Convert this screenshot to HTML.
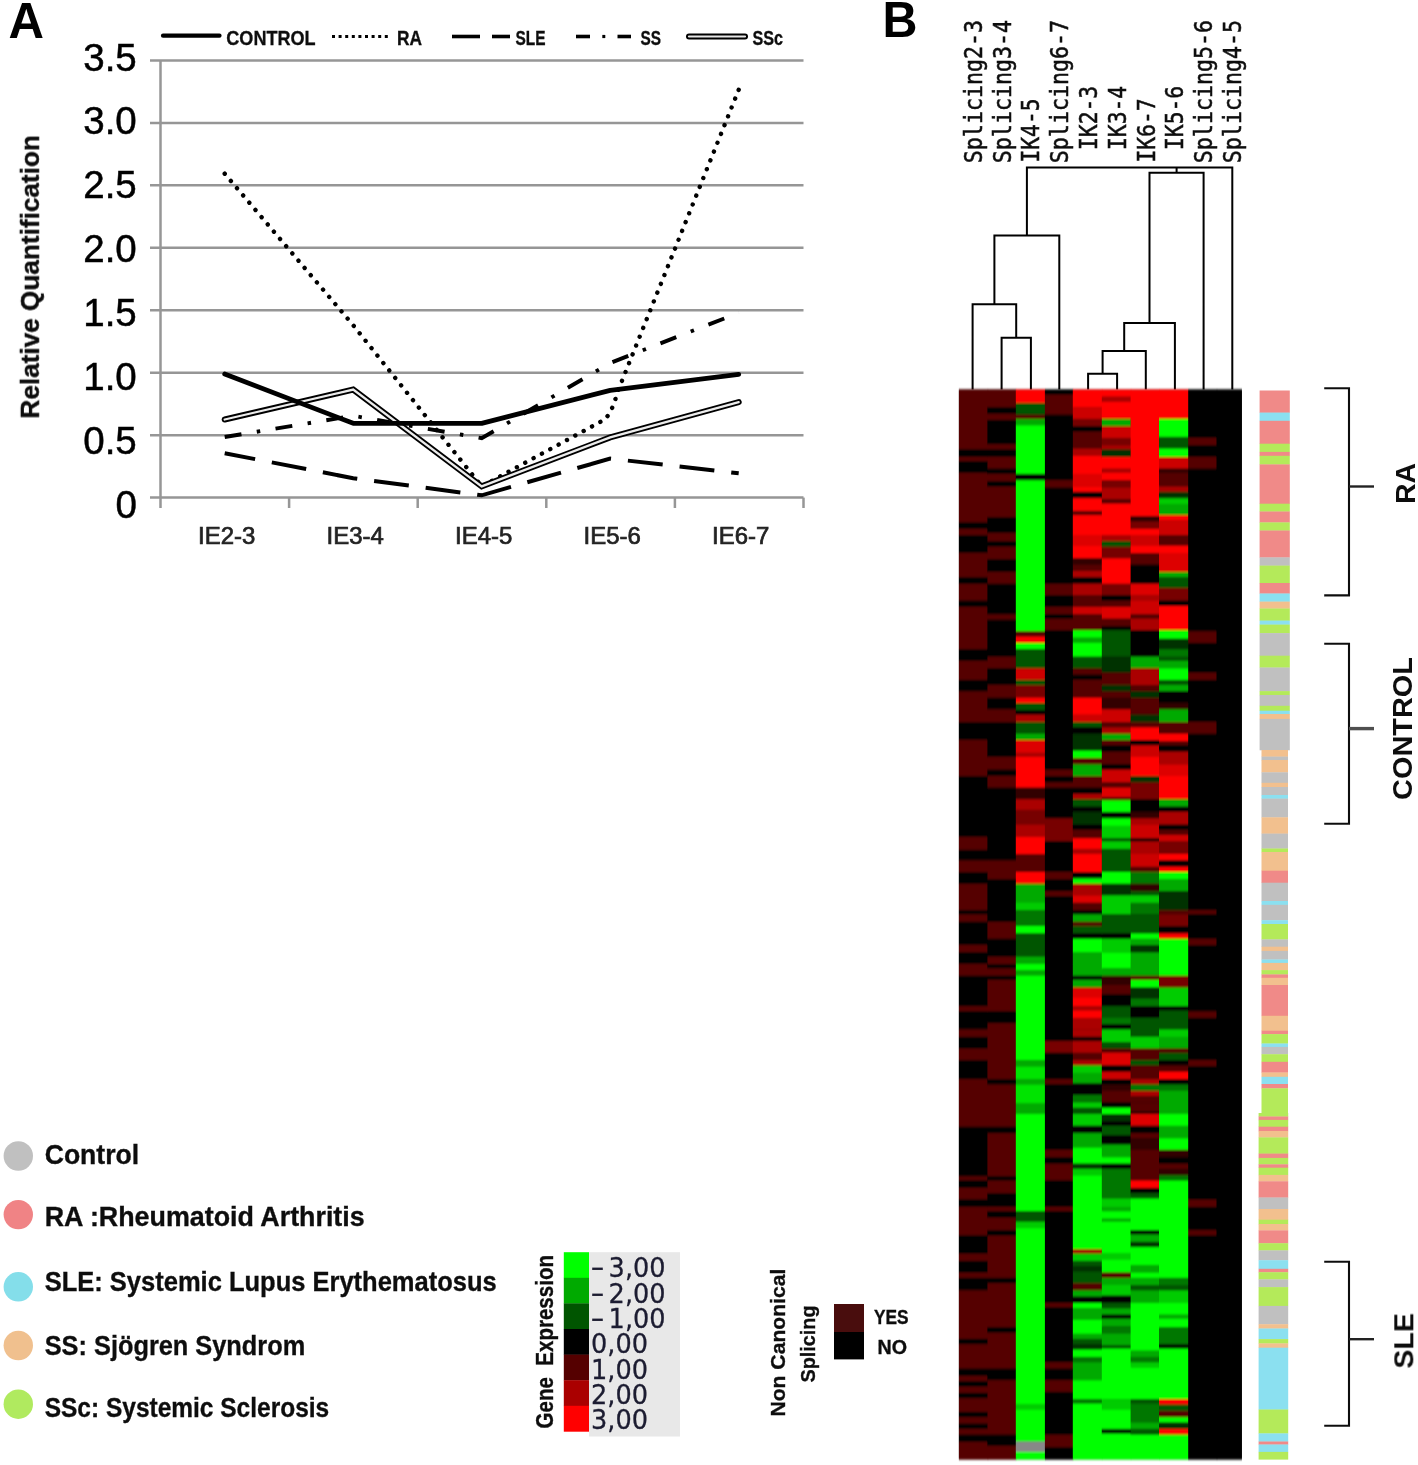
<!DOCTYPE html>
<html lang="en"><head><meta charset="utf-8"><title>Figure</title>
<style>html,body{margin:0;padding:0;background:#fff}svg{display:block}text{font-family:"Liberation Sans",sans-serif}.cb{font-weight:bold;fill:#111;stroke:#111;stroke-width:0.35px}.mono{font-family:"DejaVu Sans Mono","Liberation Mono",monospace;fill:#111;stroke:#111;stroke-width:0.45px}.dv{font-family:"DejaVu Sans",sans-serif;fill:#1c1c30;stroke:#1c1c30;stroke-width:0.3px}</style></head><body>
<svg width="1418" height="1465" viewBox="0 0 1418 1465">
<defs><filter id="bl" x="-2%" y="-1%" width="104%" height="102%"><feGaussianBlur stdDeviation="0.7 0.8"/></filter><filter id="b2"><feGaussianBlur stdDeviation="0.45"/></filter></defs>
<rect width="1418" height="1465" fill="#fff"/>
<text x="8.5" y="37.6" font-size="50.5" font-weight="bold" fill="#000" textLength="35.5" lengthAdjust="spacingAndGlyphs">A</text>
<text x="882.6" y="37.3" font-size="50.5" font-weight="bold" fill="#000" textLength="35" lengthAdjust="spacingAndGlyphs">B</text>
<g filter="url(#b2)">
<g stroke="#969696" stroke-width="2.5" fill="none">
<line x1="150" y1="60.4" x2="803.5" y2="60.4"/>
<line x1="150" y1="122.9" x2="803.5" y2="122.9"/>
<line x1="150" y1="185.3" x2="803.5" y2="185.3"/>
<line x1="150" y1="247.8" x2="803.5" y2="247.8"/>
<line x1="150" y1="310.2" x2="803.5" y2="310.2"/>
<line x1="150" y1="372.7" x2="803.5" y2="372.7"/>
<line x1="150" y1="435.2" x2="803.5" y2="435.2"/>
<line x1="150" y1="497.6" x2="803.5" y2="497.6"/>
<line x1="160.5" y1="60" x2="160.5" y2="508"/>
<line x1="289.1" y1="497.6" x2="289.1" y2="508"/>
<line x1="417.7" y1="497.6" x2="417.7" y2="508"/>
<line x1="546.3" y1="497.6" x2="546.3" y2="508"/>
<line x1="674.9" y1="497.6" x2="674.9" y2="508"/>
<line x1="803.5" y1="497.6" x2="803.5" y2="508"/>
</g>
<text x="136.8" y="70.6" font-size="38.5" text-anchor="end" fill="#000" stroke="#000" stroke-width="0.5" textLength="53.6" lengthAdjust="spacingAndGlyphs">3.5</text>
<text x="136.8" y="134.4" font-size="38.5" text-anchor="end" fill="#000" stroke="#000" stroke-width="0.5" textLength="53.6" lengthAdjust="spacingAndGlyphs">3.0</text>
<text x="136.8" y="198.3" font-size="38.5" text-anchor="end" fill="#000" stroke="#000" stroke-width="0.5" textLength="53.6" lengthAdjust="spacingAndGlyphs">2.5</text>
<text x="136.8" y="262.1" font-size="38.5" text-anchor="end" fill="#000" stroke="#000" stroke-width="0.5" textLength="53.6" lengthAdjust="spacingAndGlyphs">2.0</text>
<text x="136.8" y="326.0" font-size="38.5" text-anchor="end" fill="#000" stroke="#000" stroke-width="0.5" textLength="53.6" lengthAdjust="spacingAndGlyphs">1.5</text>
<text x="136.8" y="389.9" font-size="38.5" text-anchor="end" fill="#000" stroke="#000" stroke-width="0.5" textLength="53.6" lengthAdjust="spacingAndGlyphs">1.0</text>
<text x="136.8" y="453.7" font-size="38.5" text-anchor="end" fill="#000" stroke="#000" stroke-width="0.5" textLength="53.6" lengthAdjust="spacingAndGlyphs">0.5</text>
<text x="136.8" y="517.5" font-size="38.5" text-anchor="end" fill="#000" stroke="#000" stroke-width="0.5">0</text>
<text x="226.7" y="544" font-size="24.3" text-anchor="middle" fill="#222" stroke="#222" stroke-width="0.7" textLength="57.3" lengthAdjust="spacingAndGlyphs">IE2-3</text>
<text x="355.2" y="544" font-size="24.3" text-anchor="middle" fill="#222" stroke="#222" stroke-width="0.7" textLength="57.3" lengthAdjust="spacingAndGlyphs">IE3-4</text>
<text x="483.7" y="544" font-size="24.3" text-anchor="middle" fill="#222" stroke="#222" stroke-width="0.7" textLength="57.3" lengthAdjust="spacingAndGlyphs">IE4-5</text>
<text x="612.2" y="544" font-size="24.3" text-anchor="middle" fill="#222" stroke="#222" stroke-width="0.7" textLength="57.3" lengthAdjust="spacingAndGlyphs">IE5-6</text>
<text x="740.7" y="544" font-size="24.3" text-anchor="middle" fill="#222" stroke="#222" stroke-width="0.7" textLength="57.3" lengthAdjust="spacingAndGlyphs">IE6-7</text>
<text transform="translate(38.9,418.6) rotate(-90)" font-size="25" class="cb" fill="#222" textLength="283.5" lengthAdjust="spacingAndGlyphs">Relative Quantification</text>
<path d="M224.7,173.7 L353.2,325.2 L481.7,486.4" fill="none" stroke="#000" stroke-width="4.4" stroke-linecap="round" stroke-dasharray="0.1 9.4"/>
<path d="M738.7,89.8 L617.5,392 Q611,416.5 602,421 L487.7,483.1" fill="none" stroke="#000" stroke-width="4.4" stroke-linecap="round" stroke-dasharray="0.1 9.4"/>
<polyline points="224.7,437.0 353.2,415.8 481.7,438.2 610.2,363.0 738.7,312.8" fill="none" stroke="#000" stroke-width="3.9" stroke-dasharray="17 15.5 3.5 15.5"/>
<polyline points="224.7,453.2 353.2,478.2 481.7,495.3 610.2,458.6 738.7,473.3" fill="none" stroke="#000" stroke-width="4" stroke-dasharray="35 17" stroke-dashoffset="4"/>
<polyline points="224.7,419.5 353.2,389.6 481.7,486.4 610.2,437.4 738.7,402.1" fill="none" stroke="#000" stroke-width="6" stroke-linecap="round" stroke-linejoin="miter"/>
<polyline points="224.7,419.5 353.2,389.6 481.7,486.4 610.2,437.4 738.7,402.1" fill="none" stroke="#ececec" stroke-width="2.3" stroke-linecap="round"/>
<polyline points="224.7,374.0 353.2,423.3 481.7,423.3 610.2,390.4 738.7,374.3" fill="none" stroke="#000" stroke-width="4.8" stroke-linecap="round" stroke-linejoin="round"/>
<line x1="163" y1="35.7" x2="219.5" y2="35.7" stroke="#000" stroke-width="4.2" stroke-linecap="round"/>
<text x="226.3" y="44.5" font-size="20.5" class="cb" textLength="89.3" lengthAdjust="spacingAndGlyphs">CONTROL</text>
<line x1="332" y1="36.5" x2="388" y2="36.5" stroke="#000" stroke-width="3" stroke-dasharray="3 3.6"/>
<text x="397" y="44.6" font-size="20.3" class="cb" textLength="25" lengthAdjust="spacingAndGlyphs">RA</text>
<line x1="452" y1="36.5" x2="480" y2="36.5" stroke="#000" stroke-width="3.6"/>
<line x1="492" y1="36.5" x2="510" y2="36.5" stroke="#000" stroke-width="3.6"/>
<text x="515.5" y="44.6" font-size="20.3" class="cb" textLength="30" lengthAdjust="spacingAndGlyphs">SLE</text>
<line x1="576" y1="36.5" x2="590" y2="36.5" stroke="#000" stroke-width="3.6"/>
<line x1="602.3" y1="36.5" x2="605.3" y2="36.5" stroke="#000" stroke-width="3.2"/>
<line x1="617.5" y1="36.5" x2="631" y2="36.5" stroke="#000" stroke-width="3.6"/>
<text x="640.5" y="44.6" font-size="20.3" class="cb" textLength="20.5" lengthAdjust="spacingAndGlyphs">SS</text>
<line x1="689" y1="36.5" x2="745" y2="36.5" stroke="#000" stroke-width="6" stroke-linecap="round"/>
<line x1="689" y1="36.5" x2="745" y2="36.5" stroke="#e8e8e8" stroke-width="2.2" stroke-linecap="round"/>
<text x="752.5" y="44.6" font-size="20.3" class="cb" textLength="30.5" lengthAdjust="spacingAndGlyphs">SSc</text>
</g>
<g filter="url(#b2)">
<circle cx="18.3" cy="1156.0" r="14.7" fill="#c0c0c0"/>
<text x="44.7" y="1164.2" font-size="27" class="cb" textLength="94.5" lengthAdjust="spacingAndGlyphs">Control</text>
<circle cx="18.3" cy="1214.6" r="14.7" fill="#f08385"/>
<text x="44.7" y="1226.3" font-size="27" class="cb" textLength="320.0" lengthAdjust="spacingAndGlyphs">RA :Rheumatoid Arthritis</text>
<circle cx="18.3" cy="1286.8" r="14.7" fill="#84deea"/>
<text x="44.7" y="1290.5" font-size="27" class="cb" textLength="452.0" lengthAdjust="spacingAndGlyphs">SLE: Systemic Lupus Erythematosus</text>
<circle cx="18.3" cy="1345.5" r="14.7" fill="#f0c08e"/>
<text x="44.7" y="1354.7" font-size="27" class="cb" textLength="260.5" lengthAdjust="spacingAndGlyphs">SS: Sjögren Syndrom</text>
<circle cx="18.3" cy="1404.2" r="14.7" fill="#b0ea5e"/>
<text x="44.7" y="1417.0" font-size="27" class="cb" textLength="284.5" lengthAdjust="spacingAndGlyphs">SSc: Systemic Sclerosis</text>
</g>
<g filter="url(#b2)">
<rect x="589" y="1252.2" width="91" height="184.3" fill="#e8e8e8"/>
<rect x="563.8" y="1252.2" width="25.2" height="25.9" fill="#00ff00"/>
<rect x="563.8" y="1277.8" width="25.2" height="25.9" fill="#00aa00"/>
<rect x="563.8" y="1303.4" width="25.2" height="25.9" fill="#005500"/>
<rect x="563.8" y="1329.0" width="25.2" height="25.9" fill="#000000"/>
<rect x="563.8" y="1354.6" width="25.2" height="25.9" fill="#550000"/>
<rect x="563.8" y="1380.2" width="25.2" height="25.9" fill="#aa0000"/>
<rect x="563.8" y="1405.8" width="25.2" height="25.9" fill="#ff0000"/>
<text y="1277.4" font-size="26" class="dv"><tspan x="590.6" textLength="14" lengthAdjust="spacingAndGlyphs">−</tspan><tspan x="608.6" textLength="57" lengthAdjust="spacingAndGlyphs">3,00</tspan></text>
<text y="1302.7" font-size="26" class="dv"><tspan x="590.6" textLength="14" lengthAdjust="spacingAndGlyphs">−</tspan><tspan x="608.6" textLength="57" lengthAdjust="spacingAndGlyphs">2,00</tspan></text>
<text y="1328.0" font-size="26" class="dv"><tspan x="590.6" textLength="14" lengthAdjust="spacingAndGlyphs">−</tspan><tspan x="608.6" textLength="57" lengthAdjust="spacingAndGlyphs">1,00</tspan></text>
<text x="591" y="1353.3" font-size="26" class="dv" textLength="57" lengthAdjust="spacingAndGlyphs">0,00</text>
<text x="591" y="1378.6" font-size="26" class="dv" textLength="57" lengthAdjust="spacingAndGlyphs">1,00</text>
<text x="591" y="1403.9" font-size="26" class="dv" textLength="57" lengthAdjust="spacingAndGlyphs">2,00</text>
<text x="591" y="1429.2" font-size="26" class="dv" textLength="57" lengthAdjust="spacingAndGlyphs">3,00</text>
<text transform="translate(552.6,1428.5) rotate(-90)" font-size="23" class="cb" textLength="173.5" lengthAdjust="spacingAndGlyphs" style="white-space:pre">Gene  Expression</text>
<text transform="translate(785,1416.6) rotate(-90)" font-size="21" class="cb" textLength="148" lengthAdjust="spacingAndGlyphs">Non Canonical</text>
<text transform="translate(814.7,1382.5) rotate(-90)" font-size="21" class="cb" textLength="77" lengthAdjust="spacingAndGlyphs">Splicing</text>
<rect x="834" y="1304" width="30" height="28" fill="#4a0808"/>
<rect x="834" y="1332" width="30" height="27.4" fill="#000"/>
<text x="874" y="1324" font-size="19.5" class="cb" textLength="34.6" lengthAdjust="spacingAndGlyphs">YES</text>
<text x="877.5" y="1354.4" font-size="19.5" class="cb" textLength="29.5" lengthAdjust="spacingAndGlyphs">NO</text>
</g>
<path d="M1001.6,389.5 V337.7 H1030.9 V389.5 M972.6,389.5 V304.2 H1016.2 V337.7 M994.4,304.2 V235.5 H1059.3 V389.5 M1088.1,389.5 V373.8 H1117.1 V389.5 M1102.6,373.8 V351.0 H1145.8 V389.5 M1124.2,351.0 V322.9 H1174.9 V389.5 M1149.5,322.9 V172.7 H1203.6 V389.5 M1026.9,235.5 V167.5 H1232.3 V389.5 M1176.6,172.7 V167.5" fill="none" stroke="#000" stroke-width="2" filter="url(#b2)"/>
<g filter="url(#b2)">
<text transform="translate(981.7,163.2) rotate(-90) scale(1,1.17)" font-size="21.3" class="mono" textLength="143.3" lengthAdjust="spacingAndGlyphs">Splicing2-3</text>
<text transform="translate(1010.5,163.2) rotate(-90) scale(1,1.17)" font-size="21.3" class="mono" textLength="143.3" lengthAdjust="spacingAndGlyphs">Splicing3-4</text>
<text transform="translate(1039.3,162.6) rotate(-90) scale(1,1.17)" font-size="21.3" class="mono" textLength="64.2" lengthAdjust="spacingAndGlyphs">IK4-5</text>
<text transform="translate(1068.1,163.2) rotate(-90) scale(1,1.17)" font-size="21.3" class="mono" textLength="143.3" lengthAdjust="spacingAndGlyphs">Splicing6-7</text>
<text transform="translate(1096.9,150.0) rotate(-90) scale(1,1.17)" font-size="21.3" class="mono" textLength="64.2" lengthAdjust="spacingAndGlyphs">IK2-3</text>
<text transform="translate(1125.7,150.0) rotate(-90) scale(1,1.17)" font-size="21.3" class="mono" textLength="64.2" lengthAdjust="spacingAndGlyphs">IK3-4</text>
<text transform="translate(1154.5,162.6) rotate(-90) scale(1,1.17)" font-size="21.3" class="mono" textLength="64.2" lengthAdjust="spacingAndGlyphs">IK6-7</text>
<text transform="translate(1183.3,150.0) rotate(-90) scale(1,1.17)" font-size="21.3" class="mono" textLength="64.2" lengthAdjust="spacingAndGlyphs">IK5-6</text>
<text transform="translate(1212.1,163.2) rotate(-90) scale(1,1.17)" font-size="21.3" class="mono" textLength="143.3" lengthAdjust="spacingAndGlyphs">Splicing5-6</text>
<text transform="translate(1240.9,163.2) rotate(-90) scale(1,1.17)" font-size="21.3" class="mono" textLength="143.3" lengthAdjust="spacingAndGlyphs">Splicing4-5</text>
</g>
<g filter="url(#bl)">
<rect x="958.9" y="389.5" width="282.9" height="1069.8" fill="#000"/>
<rect x="958.9" y="389.5" width="29.5" height="60.3" fill="#550000"/>
<rect x="958.9" y="449.5" width="29.5" height="7.7" fill="#000000"/>
<rect x="958.9" y="456.9" width="29.5" height="4.6" fill="#550000"/>
<rect x="958.9" y="461.2" width="29.5" height="11.9" fill="#000000"/>
<rect x="958.9" y="472.8" width="29.5" height="50.0" fill="#550000"/>
<rect x="958.9" y="522.5" width="29.5" height="6.7" fill="#000000"/>
<rect x="958.9" y="528.9" width="29.5" height="6.4" fill="#550000"/>
<rect x="958.9" y="535.0" width="29.5" height="18.3" fill="#000000"/>
<rect x="958.9" y="553.0" width="29.5" height="24.6" fill="#550000"/>
<rect x="958.9" y="577.3" width="29.5" height="6.7" fill="#000000"/>
<rect x="958.9" y="583.7" width="29.5" height="17.2" fill="#550000"/>
<rect x="958.9" y="600.6" width="29.5" height="6.6" fill="#000000"/>
<rect x="958.9" y="606.9" width="29.5" height="42.6" fill="#550000"/>
<rect x="958.9" y="649.2" width="29.5" height="12.0" fill="#000000"/>
<rect x="958.9" y="660.9" width="29.5" height="19.3" fill="#550000"/>
<rect x="958.9" y="679.9" width="29.5" height="11.7" fill="#000000"/>
<rect x="958.9" y="691.3" width="29.5" height="31.0" fill="#550000"/>
<rect x="958.9" y="722.0" width="29.5" height="18.3" fill="#000000"/>
<rect x="958.9" y="740.0" width="29.5" height="36.3" fill="#550000"/>
<rect x="958.9" y="776.0" width="29.5" height="61.3" fill="#000000"/>
<rect x="958.9" y="837.0" width="29.5" height="13.1" fill="#550000"/>
<rect x="958.9" y="849.8" width="29.5" height="10.9" fill="#000000"/>
<rect x="958.9" y="860.4" width="29.5" height="11.9" fill="#550000"/>
<rect x="958.9" y="872.0" width="29.5" height="12.0" fill="#000000"/>
<rect x="958.9" y="883.7" width="29.5" height="26.7" fill="#550000"/>
<rect x="958.9" y="910.1" width="29.5" height="4.5" fill="#000000"/>
<rect x="958.9" y="914.3" width="29.5" height="7.7" fill="#550000"/>
<rect x="958.9" y="921.7" width="29.5" height="23.6" fill="#000000"/>
<rect x="958.9" y="945.0" width="29.5" height="7.7" fill="#550000"/>
<rect x="958.9" y="952.4" width="29.5" height="11.9" fill="#000000"/>
<rect x="958.9" y="964.0" width="29.5" height="12.0" fill="#550000"/>
<rect x="958.9" y="975.7" width="29.5" height="30.8" fill="#000000"/>
<rect x="958.9" y="1006.2" width="29.5" height="5.5" fill="#550000"/>
<rect x="958.9" y="1011.4" width="29.5" height="18.3" fill="#000000"/>
<rect x="958.9" y="1029.4" width="29.5" height="7.7" fill="#550000"/>
<rect x="958.9" y="1036.8" width="29.5" height="12.0" fill="#000000"/>
<rect x="958.9" y="1048.5" width="29.5" height="11.9" fill="#550000"/>
<rect x="958.9" y="1060.1" width="29.5" height="19.3" fill="#000000"/>
<rect x="958.9" y="1079.1" width="29.5" height="47.9" fill="#550000"/>
<rect x="958.9" y="1126.7" width="29.5" height="49.9" fill="#000000"/>
<rect x="958.9" y="1176.3" width="29.5" height="4.5" fill="#550000"/>
<rect x="958.9" y="1180.5" width="29.5" height="7.7" fill="#000000"/>
<rect x="958.9" y="1187.9" width="29.5" height="11.9" fill="#550000"/>
<rect x="958.9" y="1199.5" width="29.5" height="7.7" fill="#000000"/>
<rect x="958.9" y="1206.9" width="29.5" height="28.9" fill="#550000"/>
<rect x="958.9" y="1235.5" width="29.5" height="18.3" fill="#000000"/>
<rect x="958.9" y="1253.5" width="29.5" height="7.7" fill="#550000"/>
<rect x="958.9" y="1260.9" width="29.5" height="11.9" fill="#000000"/>
<rect x="958.9" y="1272.5" width="29.5" height="5.6" fill="#550000"/>
<rect x="958.9" y="1277.8" width="29.5" height="12.8" fill="#000000"/>
<rect x="958.9" y="1290.3" width="29.5" height="48.9" fill="#550000"/>
<rect x="958.9" y="1338.9" width="29.5" height="5.6" fill="#000000"/>
<rect x="958.9" y="1344.2" width="29.5" height="24.7" fill="#550000"/>
<rect x="958.9" y="1368.6" width="29.5" height="7.7" fill="#000000"/>
<rect x="958.9" y="1376.0" width="29.5" height="5.6" fill="#550000"/>
<rect x="958.9" y="1381.3" width="29.5" height="5.5" fill="#000000"/>
<rect x="958.9" y="1386.5" width="29.5" height="6.7" fill="#550000"/>
<rect x="958.9" y="1392.9" width="29.5" height="5.6" fill="#000000"/>
<rect x="958.9" y="1398.2" width="29.5" height="14.0" fill="#550000"/>
<rect x="958.9" y="1411.9" width="29.5" height="5.6" fill="#000000"/>
<rect x="958.9" y="1417.2" width="29.5" height="6.7" fill="#550000"/>
<rect x="958.9" y="1423.6" width="29.5" height="5.6" fill="#000000"/>
<rect x="958.9" y="1428.9" width="29.5" height="6.0" fill="#550000"/>
<rect x="958.9" y="1434.6" width="29.5" height="7.7" fill="#000000"/>
<rect x="958.9" y="1442.0" width="29.5" height="17.6" fill="#550000"/>
<rect x="987.4" y="389.5" width="29.4" height="18.0" fill="#550000"/>
<rect x="987.4" y="407.2" width="29.4" height="6.7" fill="#000000"/>
<rect x="987.4" y="413.6" width="29.4" height="6.6" fill="#550000"/>
<rect x="987.4" y="419.9" width="29.4" height="24.6" fill="#000000"/>
<rect x="987.4" y="444.2" width="29.4" height="5.6" fill="#550000"/>
<rect x="987.4" y="449.5" width="29.4" height="7.7" fill="#000000"/>
<rect x="987.4" y="456.9" width="29.4" height="12.0" fill="#550000"/>
<rect x="987.4" y="468.6" width="29.4" height="5.6" fill="#000000"/>
<rect x="987.4" y="473.9" width="29.4" height="7.7" fill="#550000"/>
<rect x="987.4" y="481.3" width="29.4" height="5.5" fill="#000000"/>
<rect x="987.4" y="486.5" width="29.4" height="31.0" fill="#550000"/>
<rect x="987.4" y="517.2" width="29.4" height="16.1" fill="#000000"/>
<rect x="987.4" y="533.0" width="29.4" height="8.6" fill="#550000"/>
<rect x="987.4" y="541.3" width="29.4" height="5.6" fill="#000000"/>
<rect x="987.4" y="546.6" width="29.4" height="13.0" fill="#550000"/>
<rect x="987.4" y="559.3" width="29.4" height="13.0" fill="#000000"/>
<rect x="987.4" y="572.0" width="29.4" height="12.0" fill="#550000"/>
<rect x="987.4" y="583.7" width="29.4" height="30.9" fill="#000000"/>
<rect x="987.4" y="614.3" width="29.4" height="5.6" fill="#550000"/>
<rect x="987.4" y="619.6" width="29.4" height="37.3" fill="#000000"/>
<rect x="987.4" y="656.6" width="29.4" height="12.0" fill="#550000"/>
<rect x="987.4" y="668.3" width="29.4" height="17.0" fill="#000000"/>
<rect x="987.4" y="685.0" width="29.4" height="13.0" fill="#550000"/>
<rect x="987.4" y="697.7" width="29.4" height="11.9" fill="#000000"/>
<rect x="987.4" y="709.3" width="29.4" height="13.0" fill="#550000"/>
<rect x="987.4" y="722.0" width="29.4" height="35.2" fill="#000000"/>
<rect x="987.4" y="756.9" width="29.4" height="13.0" fill="#550000"/>
<rect x="987.4" y="769.6" width="29.4" height="6.7" fill="#000000"/>
<rect x="987.4" y="776.0" width="29.4" height="11.9" fill="#550000"/>
<rect x="987.4" y="787.6" width="29.4" height="73.1" fill="#000000"/>
<rect x="987.4" y="860.4" width="29.4" height="19.3" fill="#550000"/>
<rect x="987.4" y="879.4" width="29.4" height="42.6" fill="#000000"/>
<rect x="987.4" y="921.7" width="29.4" height="17.3" fill="#550000"/>
<rect x="987.4" y="938.7" width="29.4" height="18.2" fill="#000000"/>
<rect x="987.4" y="956.6" width="29.4" height="7.7" fill="#550000"/>
<rect x="987.4" y="964.0" width="29.4" height="4.6" fill="#000000"/>
<rect x="987.4" y="968.3" width="29.4" height="7.7" fill="#550000"/>
<rect x="987.4" y="975.7" width="29.4" height="4.5" fill="#000000"/>
<rect x="987.4" y="979.9" width="29.4" height="31.8" fill="#550000"/>
<rect x="987.4" y="1011.4" width="29.4" height="12.0" fill="#000000"/>
<rect x="987.4" y="1023.1" width="29.4" height="56.3" fill="#550000"/>
<rect x="987.4" y="1079.1" width="29.4" height="5.6" fill="#000000"/>
<rect x="987.4" y="1084.4" width="29.4" height="42.6" fill="#550000"/>
<rect x="987.4" y="1126.7" width="29.4" height="6.7" fill="#000000"/>
<rect x="987.4" y="1133.1" width="29.4" height="43.5" fill="#550000"/>
<rect x="987.4" y="1176.3" width="29.4" height="4.5" fill="#000000"/>
<rect x="987.4" y="1180.5" width="29.4" height="13.0" fill="#550000"/>
<rect x="987.4" y="1193.2" width="29.4" height="14.0" fill="#000000"/>
<rect x="987.4" y="1206.9" width="29.4" height="4.6" fill="#550000"/>
<rect x="987.4" y="1211.2" width="29.4" height="6.6" fill="#000000"/>
<rect x="987.4" y="1217.5" width="29.4" height="13.0" fill="#550000"/>
<rect x="987.4" y="1230.2" width="29.4" height="5.6" fill="#000000"/>
<rect x="987.4" y="1235.5" width="29.4" height="42.6" fill="#550000"/>
<rect x="987.4" y="1277.8" width="29.4" height="5.6" fill="#000000"/>
<rect x="987.4" y="1283.1" width="29.4" height="44.5" fill="#550000"/>
<rect x="987.4" y="1327.3" width="29.4" height="5.6" fill="#000000"/>
<rect x="987.4" y="1332.6" width="29.4" height="36.3" fill="#550000"/>
<rect x="987.4" y="1368.6" width="29.4" height="11.9" fill="#000000"/>
<rect x="987.4" y="1380.2" width="29.4" height="54.7" fill="#550000"/>
<rect x="987.4" y="1434.6" width="29.4" height="11.4" fill="#000000"/>
<rect x="987.4" y="1445.7" width="29.4" height="13.9" fill="#550000"/>
<rect x="1015.8" y="389.5" width="30.1" height="13.8" fill="#ff0000"/>
<rect x="1015.8" y="403.0" width="30.1" height="11.9" fill="#005500"/>
<rect x="1015.8" y="414.6" width="30.1" height="4.5" fill="#550000"/>
<rect x="1015.8" y="418.8" width="30.1" height="6.7" fill="#00aa00"/>
<rect x="1015.8" y="425.2" width="30.1" height="49.0" fill="#00ff00"/>
<rect x="1015.8" y="473.9" width="30.1" height="6.6" fill="#000000"/>
<rect x="1015.8" y="480.2" width="30.1" height="151.4" fill="#00ff00"/>
<rect x="1015.8" y="631.3" width="30.1" height="5.5" fill="#550000"/>
<rect x="1015.8" y="636.5" width="30.1" height="6.7" fill="#ff0000"/>
<rect x="1015.8" y="642.9" width="30.1" height="6.6" fill="#00ff00"/>
<rect x="1015.8" y="649.2" width="30.1" height="19.4" fill="#005500"/>
<rect x="1015.8" y="668.3" width="30.1" height="11.9" fill="#cc0000"/>
<rect x="1015.8" y="679.9" width="30.1" height="5.4" fill="#005500"/>
<rect x="1015.8" y="685.0" width="30.1" height="13.0" fill="#770000"/>
<rect x="1015.8" y="697.7" width="30.1" height="5.6" fill="#ff0000"/>
<rect x="1015.8" y="703.0" width="30.1" height="7.7" fill="#005500"/>
<rect x="1015.8" y="710.4" width="30.1" height="4.5" fill="#000000"/>
<rect x="1015.8" y="714.6" width="30.1" height="7.7" fill="#aa0000"/>
<rect x="1015.8" y="722.0" width="30.1" height="12.0" fill="#005500"/>
<rect x="1015.8" y="733.7" width="30.1" height="6.6" fill="#00aa00"/>
<rect x="1015.8" y="740.0" width="30.1" height="13.0" fill="#dd0000"/>
<rect x="1015.8" y="752.7" width="30.1" height="4.5" fill="#aa0000"/>
<rect x="1015.8" y="756.9" width="30.1" height="31.0" fill="#ff0000"/>
<rect x="1015.8" y="787.6" width="30.1" height="11.9" fill="#330000"/>
<rect x="1015.8" y="799.2" width="30.1" height="10.9" fill="#aa0000"/>
<rect x="1015.8" y="809.8" width="30.1" height="15.1" fill="#770000"/>
<rect x="1015.8" y="824.6" width="30.1" height="12.7" fill="#aa0000"/>
<rect x="1015.8" y="837.0" width="30.1" height="17.3" fill="#ff0000"/>
<rect x="1015.8" y="854.0" width="30.1" height="18.3" fill="#550000"/>
<rect x="1015.8" y="872.0" width="30.1" height="12.0" fill="#ff0000"/>
<rect x="1015.8" y="883.7" width="30.1" height="19.3" fill="#00aa00"/>
<rect x="1015.8" y="902.7" width="30.1" height="7.7" fill="#00cc00"/>
<rect x="1015.8" y="910.1" width="30.1" height="16.2" fill="#007700"/>
<rect x="1015.8" y="926.0" width="30.1" height="7.7" fill="#00ff00"/>
<rect x="1015.8" y="933.4" width="30.1" height="11.9" fill="#005500"/>
<rect x="1015.8" y="945.0" width="30.1" height="11.9" fill="#005500"/>
<rect x="1015.8" y="956.6" width="30.1" height="7.7" fill="#00aa00"/>
<rect x="1015.8" y="964.0" width="30.1" height="6.7" fill="#00ff00"/>
<rect x="1015.8" y="970.4" width="30.1" height="5.6" fill="#00aa00"/>
<rect x="1015.8" y="975.7" width="30.1" height="84.7" fill="#00ff00"/>
<rect x="1015.8" y="1060.1" width="30.1" height="6.6" fill="#00aa00"/>
<rect x="1015.8" y="1066.4" width="30.1" height="13.0" fill="#00e400"/>
<rect x="1015.8" y="1079.1" width="30.1" height="5.6" fill="#00aa00"/>
<rect x="1015.8" y="1084.4" width="30.1" height="19.4" fill="#00e400"/>
<rect x="1015.8" y="1103.5" width="30.1" height="10.8" fill="#00aa00"/>
<rect x="1015.8" y="1114.0" width="30.1" height="97.5" fill="#00ff00"/>
<rect x="1015.8" y="1211.2" width="30.1" height="10.8" fill="#005500"/>
<rect x="1015.8" y="1221.7" width="30.1" height="6.7" fill="#00cc00"/>
<rect x="1015.8" y="1228.1" width="30.1" height="176.7" fill="#00ff00"/>
<rect x="1015.8" y="1404.5" width="30.1" height="5.6" fill="#00cc00"/>
<rect x="1015.8" y="1409.8" width="30.1" height="32.0" fill="#00ff00"/>
<rect x="1015.8" y="1441.5" width="30.1" height="10.7" fill="#888888"/>
<rect x="1015.8" y="1451.9" width="30.1" height="7.7" fill="#00ff00"/>
<rect x="1044.9" y="389.5" width="28.9" height="5.3" fill="#000000"/>
<rect x="1044.9" y="394.5" width="28.9" height="20.4" fill="#550000"/>
<rect x="1044.9" y="414.6" width="28.9" height="65.9" fill="#000000"/>
<rect x="1044.9" y="480.2" width="28.9" height="7.7" fill="#550000"/>
<rect x="1044.9" y="487.6" width="28.9" height="96.4" fill="#000000"/>
<rect x="1044.9" y="583.7" width="28.9" height="11.9" fill="#550000"/>
<rect x="1044.9" y="595.3" width="28.9" height="11.9" fill="#000000"/>
<rect x="1044.9" y="606.9" width="28.9" height="7.7" fill="#550000"/>
<rect x="1044.9" y="614.3" width="28.9" height="4.6" fill="#000000"/>
<rect x="1044.9" y="618.6" width="28.9" height="11.9" fill="#550000"/>
<rect x="1044.9" y="630.2" width="28.9" height="139.7" fill="#000000"/>
<rect x="1044.9" y="769.6" width="28.9" height="6.7" fill="#550000"/>
<rect x="1044.9" y="776.0" width="28.9" height="6.6" fill="#000000"/>
<rect x="1044.9" y="782.3" width="28.9" height="5.6" fill="#550000"/>
<rect x="1044.9" y="787.6" width="28.9" height="31.0" fill="#000000"/>
<rect x="1044.9" y="818.3" width="28.9" height="23.3" fill="#770000"/>
<rect x="1044.9" y="841.3" width="28.9" height="31.0" fill="#000000"/>
<rect x="1044.9" y="872.0" width="28.9" height="7.7" fill="#550000"/>
<rect x="1044.9" y="879.4" width="28.9" height="12.0" fill="#000000"/>
<rect x="1044.9" y="891.1" width="28.9" height="5.6" fill="#550000"/>
<rect x="1044.9" y="896.4" width="28.9" height="145.0" fill="#000000"/>
<rect x="1044.9" y="1041.1" width="28.9" height="11.9" fill="#770000"/>
<rect x="1044.9" y="1052.7" width="28.9" height="26.7" fill="#000000"/>
<rect x="1044.9" y="1079.1" width="28.9" height="5.6" fill="#550000"/>
<rect x="1044.9" y="1084.4" width="28.9" height="65.7" fill="#000000"/>
<rect x="1044.9" y="1149.8" width="28.9" height="7.7" fill="#550000"/>
<rect x="1044.9" y="1157.2" width="28.9" height="6.7" fill="#000000"/>
<rect x="1044.9" y="1163.6" width="28.9" height="17.2" fill="#550000"/>
<rect x="1044.9" y="1180.5" width="28.9" height="26.7" fill="#000000"/>
<rect x="1044.9" y="1206.9" width="28.9" height="4.6" fill="#550000"/>
<rect x="1044.9" y="1211.2" width="28.9" height="92.1" fill="#000000"/>
<rect x="1044.9" y="1303.0" width="28.9" height="4.5" fill="#550000"/>
<rect x="1044.9" y="1307.2" width="28.9" height="55.3" fill="#000000"/>
<rect x="1044.9" y="1362.2" width="28.9" height="6.7" fill="#550000"/>
<rect x="1044.9" y="1368.6" width="28.9" height="11.9" fill="#000000"/>
<rect x="1044.9" y="1380.2" width="28.9" height="11.9" fill="#550000"/>
<rect x="1044.9" y="1391.8" width="28.9" height="43.1" fill="#000000"/>
<rect x="1044.9" y="1434.6" width="28.9" height="12.7" fill="#550000"/>
<rect x="1044.9" y="1447.0" width="28.9" height="12.6" fill="#000000"/>
<rect x="1072.8" y="389.5" width="30.0" height="18.0" fill="#ff0000"/>
<rect x="1072.8" y="407.2" width="30.0" height="11.9" fill="#cc0000"/>
<rect x="1072.8" y="418.8" width="30.0" height="7.8" fill="#770000"/>
<rect x="1072.8" y="426.3" width="30.0" height="5.5" fill="#000000"/>
<rect x="1072.8" y="431.5" width="30.0" height="17.3" fill="#550000"/>
<rect x="1072.8" y="448.5" width="30.0" height="7.7" fill="#aa0000"/>
<rect x="1072.8" y="455.9" width="30.0" height="18.3" fill="#ff0000"/>
<rect x="1072.8" y="473.9" width="30.0" height="12.9" fill="#dd0000"/>
<rect x="1072.8" y="486.5" width="30.0" height="5.6" fill="#ff0000"/>
<rect x="1072.8" y="491.8" width="30.0" height="6.7" fill="#000000"/>
<rect x="1072.8" y="498.2" width="30.0" height="13.0" fill="#ff0000"/>
<rect x="1072.8" y="510.9" width="30.0" height="4.5" fill="#550000"/>
<rect x="1072.8" y="515.1" width="30.0" height="20.2" fill="#ff0000"/>
<rect x="1072.8" y="535.0" width="30.0" height="10.9" fill="#dd0000"/>
<rect x="1072.8" y="545.6" width="30.0" height="13.0" fill="#ff0000"/>
<rect x="1072.8" y="558.3" width="30.0" height="6.6" fill="#330000"/>
<rect x="1072.8" y="564.6" width="30.0" height="6.7" fill="#550000"/>
<rect x="1072.8" y="571.0" width="30.0" height="6.6" fill="#aa0000"/>
<rect x="1072.8" y="577.3" width="30.0" height="6.7" fill="#000000"/>
<rect x="1072.8" y="583.7" width="30.0" height="11.9" fill="#aa0000"/>
<rect x="1072.8" y="595.3" width="30.0" height="11.9" fill="#550000"/>
<rect x="1072.8" y="606.9" width="30.0" height="7.7" fill="#cc0000"/>
<rect x="1072.8" y="614.3" width="30.0" height="16.2" fill="#550000"/>
<rect x="1072.8" y="630.2" width="30.0" height="7.7" fill="#00ff00"/>
<rect x="1072.8" y="637.6" width="30.0" height="5.6" fill="#00aa00"/>
<rect x="1072.8" y="642.9" width="30.0" height="14.0" fill="#00ff00"/>
<rect x="1072.8" y="656.6" width="30.0" height="12.0" fill="#005500"/>
<rect x="1072.8" y="668.3" width="30.0" height="6.6" fill="#550000"/>
<rect x="1072.8" y="674.6" width="30.0" height="5.6" fill="#000000"/>
<rect x="1072.8" y="679.9" width="30.0" height="18.1" fill="#550000"/>
<rect x="1072.8" y="697.7" width="30.0" height="17.2" fill="#ff0000"/>
<rect x="1072.8" y="714.6" width="30.0" height="7.7" fill="#cc0000"/>
<rect x="1072.8" y="722.0" width="30.0" height="5.6" fill="#005500"/>
<rect x="1072.8" y="727.3" width="30.0" height="6.7" fill="#000000"/>
<rect x="1072.8" y="733.7" width="30.0" height="17.2" fill="#003300"/>
<rect x="1072.8" y="750.6" width="30.0" height="7.6" fill="#00ff00"/>
<rect x="1072.8" y="757.9" width="30.0" height="6.7" fill="#550000"/>
<rect x="1072.8" y="764.3" width="30.0" height="12.0" fill="#00aa00"/>
<rect x="1072.8" y="776.0" width="30.0" height="11.9" fill="#550000"/>
<rect x="1072.8" y="787.6" width="30.0" height="6.7" fill="#000000"/>
<rect x="1072.8" y="794.0" width="30.0" height="5.5" fill="#aa0000"/>
<rect x="1072.8" y="799.2" width="30.0" height="7.7" fill="#005500"/>
<rect x="1072.8" y="806.6" width="30.0" height="5.6" fill="#000000"/>
<rect x="1072.8" y="811.9" width="30.0" height="13.0" fill="#003300"/>
<rect x="1072.8" y="824.6" width="30.0" height="5.6" fill="#000000"/>
<rect x="1072.8" y="829.9" width="30.0" height="8.6" fill="#550000"/>
<rect x="1072.8" y="838.2" width="30.0" height="10.9" fill="#ff0000"/>
<rect x="1072.8" y="848.8" width="30.0" height="5.5" fill="#aa0000"/>
<rect x="1072.8" y="854.0" width="30.0" height="18.3" fill="#ff0000"/>
<rect x="1072.8" y="872.0" width="30.0" height="6.7" fill="#000000"/>
<rect x="1072.8" y="878.4" width="30.0" height="5.6" fill="#00ff00"/>
<rect x="1072.8" y="883.7" width="30.0" height="11.9" fill="#aa0000"/>
<rect x="1072.8" y="895.3" width="30.0" height="7.7" fill="#dd0000"/>
<rect x="1072.8" y="902.7" width="30.0" height="7.7" fill="#550000"/>
<rect x="1072.8" y="910.1" width="30.0" height="4.5" fill="#000000"/>
<rect x="1072.8" y="914.3" width="30.0" height="7.7" fill="#00aa00"/>
<rect x="1072.8" y="921.7" width="30.0" height="4.6" fill="#550000"/>
<rect x="1072.8" y="926.0" width="30.0" height="7.7" fill="#005500"/>
<rect x="1072.8" y="933.4" width="30.0" height="5.6" fill="#000000"/>
<rect x="1072.8" y="938.7" width="30.0" height="14.0" fill="#00ff00"/>
<rect x="1072.8" y="952.4" width="30.0" height="11.9" fill="#00aa00"/>
<rect x="1072.8" y="964.0" width="30.0" height="12.0" fill="#00aa00"/>
<rect x="1072.8" y="975.7" width="30.0" height="4.5" fill="#000000"/>
<rect x="1072.8" y="979.9" width="30.0" height="7.9" fill="#00aa00"/>
<rect x="1072.8" y="987.5" width="30.0" height="10.5" fill="#dd0000"/>
<rect x="1072.8" y="997.7" width="30.0" height="8.8" fill="#ff0000"/>
<rect x="1072.8" y="1006.2" width="30.0" height="4.5" fill="#aa0000"/>
<rect x="1072.8" y="1010.4" width="30.0" height="7.7" fill="#ff0000"/>
<rect x="1072.8" y="1017.8" width="30.0" height="11.9" fill="#aa0000"/>
<rect x="1072.8" y="1029.4" width="30.0" height="7.7" fill="#aa0000"/>
<rect x="1072.8" y="1036.8" width="30.0" height="4.6" fill="#000000"/>
<rect x="1072.8" y="1041.1" width="30.0" height="11.9" fill="#aa0000"/>
<rect x="1072.8" y="1052.7" width="30.0" height="7.7" fill="#550000"/>
<rect x="1072.8" y="1060.1" width="30.0" height="5.6" fill="#aa0000"/>
<rect x="1072.8" y="1065.4" width="30.0" height="7.7" fill="#00cc00"/>
<rect x="1072.8" y="1072.8" width="30.0" height="10.9" fill="#00aa00"/>
<rect x="1072.8" y="1083.4" width="30.0" height="11.9" fill="#000000"/>
<rect x="1072.8" y="1095.0" width="30.0" height="7.7" fill="#007700"/>
<rect x="1072.8" y="1102.4" width="30.0" height="5.6" fill="#00cc00"/>
<rect x="1072.8" y="1107.7" width="30.0" height="6.6" fill="#005500"/>
<rect x="1072.8" y="1114.0" width="30.0" height="12.0" fill="#00cc00"/>
<rect x="1072.8" y="1125.7" width="30.0" height="7.7" fill="#000000"/>
<rect x="1072.8" y="1133.1" width="30.0" height="14.9" fill="#00aa00"/>
<rect x="1072.8" y="1147.7" width="30.0" height="16.2" fill="#00ff00"/>
<rect x="1072.8" y="1163.6" width="30.0" height="5.5" fill="#003300"/>
<rect x="1072.8" y="1168.8" width="30.0" height="6.7" fill="#00cc00"/>
<rect x="1072.8" y="1175.2" width="30.0" height="74.3" fill="#00ff00"/>
<rect x="1072.8" y="1249.2" width="30.0" height="4.6" fill="#aa0000"/>
<rect x="1072.8" y="1253.5" width="30.0" height="7.7" fill="#00cc00"/>
<rect x="1072.8" y="1260.9" width="30.0" height="5.6" fill="#005500"/>
<rect x="1072.8" y="1266.2" width="30.0" height="5.5" fill="#003300"/>
<rect x="1072.8" y="1271.4" width="30.0" height="12.0" fill="#005500"/>
<rect x="1072.8" y="1283.1" width="30.0" height="7.5" fill="#550000"/>
<rect x="1072.8" y="1290.3" width="30.0" height="6.6" fill="#00aa00"/>
<rect x="1072.8" y="1296.6" width="30.0" height="6.7" fill="#000000"/>
<rect x="1072.8" y="1303.0" width="30.0" height="5.6" fill="#00ff00"/>
<rect x="1072.8" y="1308.3" width="30.0" height="11.9" fill="#00aa00"/>
<rect x="1072.8" y="1319.9" width="30.0" height="14.1" fill="#00ff00"/>
<rect x="1072.8" y="1333.7" width="30.0" height="5.5" fill="#00aa00"/>
<rect x="1072.8" y="1338.9" width="30.0" height="5.6" fill="#005500"/>
<rect x="1072.8" y="1344.2" width="30.0" height="5.6" fill="#003300"/>
<rect x="1072.8" y="1349.5" width="30.0" height="7.7" fill="#00ff00"/>
<rect x="1072.8" y="1356.9" width="30.0" height="5.6" fill="#007700"/>
<rect x="1072.8" y="1362.2" width="30.0" height="18.3" fill="#00aa00"/>
<rect x="1072.8" y="1380.2" width="30.0" height="19.3" fill="#00ff00"/>
<rect x="1072.8" y="1399.2" width="30.0" height="4.6" fill="#007700"/>
<rect x="1072.8" y="1403.5" width="30.0" height="56.1" fill="#00ff00"/>
<rect x="1101.8" y="389.5" width="29.8" height="7.4" fill="#ff0000"/>
<rect x="1101.8" y="396.6" width="29.8" height="5.6" fill="#aa0000"/>
<rect x="1101.8" y="401.9" width="29.8" height="17.2" fill="#ff0000"/>
<rect x="1101.8" y="418.8" width="29.8" height="7.8" fill="#00aa00"/>
<rect x="1101.8" y="426.3" width="29.8" height="11.9" fill="#cc0000"/>
<rect x="1101.8" y="437.9" width="29.8" height="7.7" fill="#770000"/>
<rect x="1101.8" y="445.3" width="29.8" height="4.5" fill="#aa0000"/>
<rect x="1101.8" y="449.5" width="29.8" height="7.7" fill="#003300"/>
<rect x="1101.8" y="456.9" width="29.8" height="12.0" fill="#ff0000"/>
<rect x="1101.8" y="468.6" width="29.8" height="4.5" fill="#aa0000"/>
<rect x="1101.8" y="472.8" width="29.8" height="7.7" fill="#ff0000"/>
<rect x="1101.8" y="480.2" width="29.8" height="7.7" fill="#770000"/>
<rect x="1101.8" y="487.6" width="29.8" height="11.9" fill="#aa0000"/>
<rect x="1101.8" y="499.2" width="29.8" height="4.6" fill="#550000"/>
<rect x="1101.8" y="503.5" width="29.8" height="31.8" fill="#ff0000"/>
<rect x="1101.8" y="535.0" width="29.8" height="6.6" fill="#aa0000"/>
<rect x="1101.8" y="541.3" width="29.8" height="5.6" fill="#005500"/>
<rect x="1101.8" y="546.6" width="29.8" height="12.0" fill="#770000"/>
<rect x="1101.8" y="558.3" width="29.8" height="25.7" fill="#ff0000"/>
<rect x="1101.8" y="583.7" width="29.8" height="11.9" fill="#770000"/>
<rect x="1101.8" y="595.3" width="29.8" height="5.6" fill="#000000"/>
<rect x="1101.8" y="600.6" width="29.8" height="6.6" fill="#550000"/>
<rect x="1101.8" y="606.9" width="29.8" height="12.0" fill="#dd0000"/>
<rect x="1101.8" y="618.6" width="29.8" height="7.7" fill="#550000"/>
<rect x="1101.8" y="626.0" width="29.8" height="4.5" fill="#000000"/>
<rect x="1101.8" y="630.2" width="29.8" height="26.7" fill="#005500"/>
<rect x="1101.8" y="656.6" width="29.8" height="16.2" fill="#003300"/>
<rect x="1101.8" y="672.5" width="29.8" height="12.8" fill="#550000"/>
<rect x="1101.8" y="685.0" width="29.8" height="6.6" fill="#003300"/>
<rect x="1101.8" y="691.3" width="29.8" height="6.7" fill="#550000"/>
<rect x="1101.8" y="697.7" width="29.8" height="11.9" fill="#330000"/>
<rect x="1101.8" y="709.3" width="29.8" height="13.0" fill="#cc0000"/>
<rect x="1101.8" y="722.0" width="29.8" height="5.6" fill="#550000"/>
<rect x="1101.8" y="727.3" width="29.8" height="6.7" fill="#aa0000"/>
<rect x="1101.8" y="733.7" width="29.8" height="6.6" fill="#00aa00"/>
<rect x="1101.8" y="740.0" width="29.8" height="5.6" fill="#550000"/>
<rect x="1101.8" y="745.3" width="29.8" height="6.6" fill="#000000"/>
<rect x="1101.8" y="751.6" width="29.8" height="13.0" fill="#550000"/>
<rect x="1101.8" y="764.3" width="29.8" height="5.6" fill="#000000"/>
<rect x="1101.8" y="769.6" width="29.8" height="13.0" fill="#cc0000"/>
<rect x="1101.8" y="782.3" width="29.8" height="5.6" fill="#550000"/>
<rect x="1101.8" y="787.6" width="29.8" height="9.8" fill="#dd0000"/>
<rect x="1101.8" y="797.1" width="29.8" height="3.5" fill="#550000"/>
<rect x="1101.8" y="800.3" width="29.8" height="11.9" fill="#00ff00"/>
<rect x="1101.8" y="811.9" width="29.8" height="6.7" fill="#000000"/>
<rect x="1101.8" y="818.3" width="29.8" height="7.7" fill="#00ff00"/>
<rect x="1101.8" y="825.7" width="29.8" height="12.8" fill="#00cc00"/>
<rect x="1101.8" y="838.2" width="29.8" height="3.4" fill="#005500"/>
<rect x="1101.8" y="841.3" width="29.8" height="7.8" fill="#00cc00"/>
<rect x="1101.8" y="848.8" width="29.8" height="23.5" fill="#005500"/>
<rect x="1101.8" y="872.0" width="29.8" height="12.0" fill="#00ff00"/>
<rect x="1101.8" y="883.7" width="29.8" height="11.9" fill="#003300"/>
<rect x="1101.8" y="895.3" width="29.8" height="19.3" fill="#00cc00"/>
<rect x="1101.8" y="914.3" width="29.8" height="19.4" fill="#005500"/>
<rect x="1101.8" y="933.4" width="29.8" height="5.6" fill="#000000"/>
<rect x="1101.8" y="938.7" width="29.8" height="14.0" fill="#00cc00"/>
<rect x="1101.8" y="952.4" width="29.8" height="16.2" fill="#00ff00"/>
<rect x="1101.8" y="968.3" width="29.8" height="7.7" fill="#00aa00"/>
<rect x="1101.8" y="975.7" width="29.8" height="9.6" fill="#330000"/>
<rect x="1101.8" y="985.0" width="29.8" height="9.8" fill="#550000"/>
<rect x="1101.8" y="994.5" width="29.8" height="12.0" fill="#000000"/>
<rect x="1101.8" y="1006.2" width="29.8" height="11.9" fill="#005500"/>
<rect x="1101.8" y="1017.8" width="29.8" height="6.6" fill="#007700"/>
<rect x="1101.8" y="1024.1" width="29.8" height="5.6" fill="#000000"/>
<rect x="1101.8" y="1029.4" width="29.8" height="13.0" fill="#00cc00"/>
<rect x="1101.8" y="1042.1" width="29.8" height="6.7" fill="#005500"/>
<rect x="1101.8" y="1048.5" width="29.8" height="4.5" fill="#550000"/>
<rect x="1101.8" y="1052.7" width="29.8" height="13.0" fill="#dd0000"/>
<rect x="1101.8" y="1065.4" width="29.8" height="6.6" fill="#000000"/>
<rect x="1101.8" y="1071.7" width="29.8" height="7.7" fill="#cc0000"/>
<rect x="1101.8" y="1079.1" width="29.8" height="5.6" fill="#000000"/>
<rect x="1101.8" y="1084.4" width="29.8" height="6.7" fill="#330000"/>
<rect x="1101.8" y="1090.8" width="29.8" height="11.9" fill="#550000"/>
<rect x="1101.8" y="1102.4" width="29.8" height="5.6" fill="#000000"/>
<rect x="1101.8" y="1107.7" width="29.8" height="6.6" fill="#00ff00"/>
<rect x="1101.8" y="1114.0" width="29.8" height="7.7" fill="#003300"/>
<rect x="1101.8" y="1121.4" width="29.8" height="4.6" fill="#000000"/>
<rect x="1101.8" y="1125.7" width="29.8" height="9.6" fill="#005500"/>
<rect x="1101.8" y="1135.0" width="29.8" height="9.8" fill="#000000"/>
<rect x="1101.8" y="1144.5" width="29.8" height="13.0" fill="#00aa00"/>
<rect x="1101.8" y="1157.2" width="29.8" height="6.7" fill="#00ff00"/>
<rect x="1101.8" y="1163.6" width="29.8" height="5.5" fill="#000000"/>
<rect x="1101.8" y="1168.8" width="29.8" height="30.0" fill="#007700"/>
<rect x="1101.8" y="1198.5" width="29.8" height="8.7" fill="#00cc00"/>
<rect x="1101.8" y="1206.9" width="29.8" height="4.6" fill="#00aa00"/>
<rect x="1101.8" y="1211.2" width="29.8" height="7.7" fill="#00ff00"/>
<rect x="1101.8" y="1218.6" width="29.8" height="3.4" fill="#00aa00"/>
<rect x="1101.8" y="1221.7" width="29.8" height="32.1" fill="#00ff00"/>
<rect x="1101.8" y="1253.5" width="29.8" height="6.6" fill="#00cc00"/>
<rect x="1101.8" y="1259.8" width="29.8" height="13.0" fill="#00ff00"/>
<rect x="1101.8" y="1272.5" width="29.8" height="5.6" fill="#550000"/>
<rect x="1101.8" y="1277.8" width="29.8" height="7.5" fill="#00aa00"/>
<rect x="1101.8" y="1285.0" width="29.8" height="10.9" fill="#00cc00"/>
<rect x="1101.8" y="1295.6" width="29.8" height="7.7" fill="#000000"/>
<rect x="1101.8" y="1303.0" width="29.8" height="5.6" fill="#005500"/>
<rect x="1101.8" y="1308.3" width="29.8" height="6.6" fill="#00aa00"/>
<rect x="1101.8" y="1314.6" width="29.8" height="4.5" fill="#000000"/>
<rect x="1101.8" y="1318.8" width="29.8" height="7.8" fill="#00aa00"/>
<rect x="1101.8" y="1326.3" width="29.8" height="7.7" fill="#007700"/>
<rect x="1101.8" y="1333.7" width="29.8" height="11.9" fill="#00aa00"/>
<rect x="1101.8" y="1345.3" width="29.8" height="3.5" fill="#005500"/>
<rect x="1101.8" y="1348.5" width="29.8" height="51.0" fill="#00ff00"/>
<rect x="1101.8" y="1399.2" width="29.8" height="10.9" fill="#00cc00"/>
<rect x="1101.8" y="1409.8" width="29.8" height="19.4" fill="#00ff00"/>
<rect x="1101.8" y="1428.9" width="29.8" height="4.9" fill="#000000"/>
<rect x="1101.8" y="1433.5" width="29.8" height="26.1" fill="#00ff00"/>
<rect x="1130.6" y="389.5" width="29.4" height="127.0" fill="#ff0000"/>
<rect x="1130.6" y="516.2" width="29.4" height="5.5" fill="#330000"/>
<rect x="1130.6" y="521.4" width="29.4" height="7.8" fill="#770000"/>
<rect x="1130.6" y="528.9" width="29.4" height="6.4" fill="#ff0000"/>
<rect x="1130.6" y="535.0" width="29.4" height="10.9" fill="#cc0000"/>
<rect x="1130.6" y="545.6" width="29.4" height="7.7" fill="#ff0000"/>
<rect x="1130.6" y="553.0" width="29.4" height="11.9" fill="#550000"/>
<rect x="1130.6" y="564.6" width="29.4" height="19.4" fill="#000000"/>
<rect x="1130.6" y="583.7" width="29.4" height="11.9" fill="#dd0000"/>
<rect x="1130.6" y="595.3" width="29.4" height="5.6" fill="#aa0000"/>
<rect x="1130.6" y="600.6" width="29.4" height="14.0" fill="#cc0000"/>
<rect x="1130.6" y="614.3" width="29.4" height="4.6" fill="#550000"/>
<rect x="1130.6" y="618.6" width="29.4" height="11.9" fill="#aa0000"/>
<rect x="1130.6" y="630.2" width="29.4" height="26.7" fill="#000000"/>
<rect x="1130.6" y="656.6" width="29.4" height="12.0" fill="#00aa00"/>
<rect x="1130.6" y="668.3" width="29.4" height="17.0" fill="#aa0000"/>
<rect x="1130.6" y="685.0" width="29.4" height="6.6" fill="#550000"/>
<rect x="1130.6" y="691.3" width="29.4" height="6.7" fill="#003300"/>
<rect x="1130.6" y="697.7" width="29.4" height="17.2" fill="#550000"/>
<rect x="1130.6" y="714.6" width="29.4" height="7.7" fill="#003300"/>
<rect x="1130.6" y="722.0" width="29.4" height="5.6" fill="#550000"/>
<rect x="1130.6" y="727.3" width="29.4" height="13.0" fill="#ff0000"/>
<rect x="1130.6" y="740.0" width="29.4" height="5.6" fill="#000000"/>
<rect x="1130.6" y="745.3" width="29.4" height="11.9" fill="#cc0000"/>
<rect x="1130.6" y="756.9" width="29.4" height="19.4" fill="#ff0000"/>
<rect x="1130.6" y="776.0" width="29.4" height="6.6" fill="#003300"/>
<rect x="1130.6" y="782.3" width="29.4" height="17.2" fill="#770000"/>
<rect x="1130.6" y="799.2" width="29.4" height="13.0" fill="#000000"/>
<rect x="1130.6" y="811.9" width="29.4" height="6.7" fill="#330000"/>
<rect x="1130.6" y="818.3" width="29.4" height="6.6" fill="#aa0000"/>
<rect x="1130.6" y="824.6" width="29.4" height="13.9" fill="#cc0000"/>
<rect x="1130.6" y="838.2" width="29.4" height="3.4" fill="#000000"/>
<rect x="1130.6" y="841.3" width="29.4" height="13.0" fill="#aa0000"/>
<rect x="1130.6" y="854.0" width="29.4" height="13.0" fill="#cc0000"/>
<rect x="1130.6" y="866.7" width="29.4" height="5.6" fill="#550000"/>
<rect x="1130.6" y="872.0" width="29.4" height="12.0" fill="#007700"/>
<rect x="1130.6" y="883.7" width="29.4" height="7.7" fill="#330000"/>
<rect x="1130.6" y="891.1" width="29.4" height="4.5" fill="#005500"/>
<rect x="1130.6" y="895.3" width="29.4" height="7.7" fill="#00cc00"/>
<rect x="1130.6" y="902.7" width="29.4" height="11.9" fill="#007700"/>
<rect x="1130.6" y="914.3" width="29.4" height="19.4" fill="#005500"/>
<rect x="1130.6" y="933.4" width="29.4" height="5.6" fill="#00ff00"/>
<rect x="1130.6" y="938.7" width="29.4" height="6.6" fill="#00aa00"/>
<rect x="1130.6" y="945.0" width="29.4" height="7.7" fill="#003300"/>
<rect x="1130.6" y="952.4" width="29.4" height="11.9" fill="#00aa00"/>
<rect x="1130.6" y="964.0" width="29.4" height="12.0" fill="#00aa00"/>
<rect x="1130.6" y="975.7" width="29.4" height="4.5" fill="#550000"/>
<rect x="1130.6" y="979.9" width="29.4" height="7.9" fill="#00ff00"/>
<rect x="1130.6" y="987.5" width="29.4" height="11.5" fill="#003300"/>
<rect x="1130.6" y="998.7" width="29.4" height="7.8" fill="#007700"/>
<rect x="1130.6" y="1006.2" width="29.4" height="11.9" fill="#000000"/>
<rect x="1130.6" y="1017.8" width="29.4" height="19.3" fill="#005500"/>
<rect x="1130.6" y="1036.8" width="29.4" height="12.0" fill="#00cc00"/>
<rect x="1130.6" y="1048.5" width="29.4" height="11.9" fill="#550000"/>
<rect x="1130.6" y="1060.1" width="29.4" height="5.6" fill="#005500"/>
<rect x="1130.6" y="1065.4" width="29.4" height="14.0" fill="#550000"/>
<rect x="1130.6" y="1079.1" width="29.4" height="5.6" fill="#aa0000"/>
<rect x="1130.6" y="1084.4" width="29.4" height="6.7" fill="#007700"/>
<rect x="1130.6" y="1090.8" width="29.4" height="5.6" fill="#aa0000"/>
<rect x="1130.6" y="1096.1" width="29.4" height="6.6" fill="#550000"/>
<rect x="1130.6" y="1102.4" width="29.4" height="9.8" fill="#550000"/>
<rect x="1130.6" y="1111.9" width="29.4" height="2.4" fill="#000000"/>
<rect x="1130.6" y="1114.0" width="29.4" height="12.0" fill="#dd0000"/>
<rect x="1130.6" y="1125.7" width="29.4" height="7.7" fill="#000000"/>
<rect x="1130.6" y="1133.1" width="29.4" height="5.4" fill="#550000"/>
<rect x="1130.6" y="1138.2" width="29.4" height="11.9" fill="#330000"/>
<rect x="1130.6" y="1149.8" width="29.4" height="31.0" fill="#550000"/>
<rect x="1130.6" y="1180.5" width="29.4" height="7.7" fill="#ff0000"/>
<rect x="1130.6" y="1187.9" width="29.4" height="5.6" fill="#000000"/>
<rect x="1130.6" y="1193.2" width="29.4" height="5.6" fill="#005500"/>
<rect x="1130.6" y="1198.5" width="29.4" height="32.0" fill="#00ff00"/>
<rect x="1130.6" y="1230.2" width="29.4" height="4.5" fill="#000000"/>
<rect x="1130.6" y="1234.4" width="29.4" height="7.7" fill="#00aa00"/>
<rect x="1130.6" y="1241.8" width="29.4" height="5.6" fill="#003300"/>
<rect x="1130.6" y="1247.1" width="29.4" height="18.3" fill="#00ff00"/>
<rect x="1130.6" y="1265.1" width="29.4" height="7.7" fill="#00aa00"/>
<rect x="1130.6" y="1272.5" width="29.4" height="5.6" fill="#00ff00"/>
<rect x="1130.6" y="1277.8" width="29.4" height="7.5" fill="#00aa00"/>
<rect x="1130.6" y="1285.0" width="29.4" height="5.6" fill="#005500"/>
<rect x="1130.6" y="1290.3" width="29.4" height="13.0" fill="#00aa00"/>
<rect x="1130.6" y="1303.0" width="29.4" height="47.9" fill="#00ff00"/>
<rect x="1130.6" y="1350.6" width="29.4" height="6.6" fill="#00aa00"/>
<rect x="1130.6" y="1356.9" width="29.4" height="5.6" fill="#007700"/>
<rect x="1130.6" y="1362.2" width="29.4" height="5.6" fill="#00cc00"/>
<rect x="1130.6" y="1367.5" width="29.4" height="32.0" fill="#00ff00"/>
<rect x="1130.6" y="1399.2" width="29.4" height="4.6" fill="#005500"/>
<rect x="1130.6" y="1403.5" width="29.4" height="19.3" fill="#007700"/>
<rect x="1130.6" y="1422.5" width="29.4" height="6.7" fill="#00aa00"/>
<rect x="1130.6" y="1428.9" width="29.4" height="6.0" fill="#005500"/>
<rect x="1130.6" y="1434.6" width="29.4" height="25.0" fill="#00ff00"/>
<rect x="1159.0" y="389.5" width="30.2" height="29.6" fill="#ff0000"/>
<rect x="1159.0" y="418.8" width="30.2" height="18.3" fill="#00ff00"/>
<rect x="1159.0" y="436.8" width="30.2" height="12.0" fill="#005500"/>
<rect x="1159.0" y="448.5" width="30.2" height="8.7" fill="#00ff00"/>
<rect x="1159.0" y="456.9" width="30.2" height="12.0" fill="#cc0000"/>
<rect x="1159.0" y="468.6" width="30.2" height="4.5" fill="#330000"/>
<rect x="1159.0" y="472.8" width="30.2" height="14.0" fill="#550000"/>
<rect x="1159.0" y="486.5" width="30.2" height="5.6" fill="#aa0000"/>
<rect x="1159.0" y="491.8" width="30.2" height="6.7" fill="#003300"/>
<rect x="1159.0" y="498.2" width="30.2" height="6.6" fill="#00cc00"/>
<rect x="1159.0" y="504.5" width="30.2" height="10.9" fill="#00aa00"/>
<rect x="1159.0" y="515.1" width="30.2" height="5.6" fill="#ff0000"/>
<rect x="1159.0" y="520.4" width="30.2" height="14.9" fill="#cc0000"/>
<rect x="1159.0" y="535.0" width="30.2" height="10.9" fill="#550000"/>
<rect x="1159.0" y="545.6" width="30.2" height="7.7" fill="#ff0000"/>
<rect x="1159.0" y="553.0" width="30.2" height="19.3" fill="#dd0000"/>
<rect x="1159.0" y="572.0" width="30.2" height="5.6" fill="#00aa00"/>
<rect x="1159.0" y="577.3" width="30.2" height="10.9" fill="#005500"/>
<rect x="1159.0" y="587.9" width="30.2" height="13.0" fill="#770000"/>
<rect x="1159.0" y="600.6" width="30.2" height="5.6" fill="#000000"/>
<rect x="1159.0" y="605.9" width="30.2" height="24.6" fill="#ff0000"/>
<rect x="1159.0" y="630.2" width="30.2" height="8.8" fill="#00ff00"/>
<rect x="1159.0" y="638.7" width="30.2" height="10.8" fill="#003300"/>
<rect x="1159.0" y="649.2" width="30.2" height="7.7" fill="#007700"/>
<rect x="1159.0" y="656.6" width="30.2" height="4.6" fill="#005500"/>
<rect x="1159.0" y="660.9" width="30.2" height="7.7" fill="#00aa00"/>
<rect x="1159.0" y="668.3" width="30.2" height="11.9" fill="#00ff00"/>
<rect x="1159.0" y="679.9" width="30.2" height="5.4" fill="#005500"/>
<rect x="1159.0" y="685.0" width="30.2" height="6.6" fill="#00aa00"/>
<rect x="1159.0" y="691.3" width="30.2" height="12.0" fill="#000000"/>
<rect x="1159.0" y="703.0" width="30.2" height="6.6" fill="#330000"/>
<rect x="1159.0" y="709.3" width="30.2" height="13.0" fill="#00aa00"/>
<rect x="1159.0" y="722.0" width="30.2" height="12.0" fill="#550000"/>
<rect x="1159.0" y="733.7" width="30.2" height="7.6" fill="#ff0000"/>
<rect x="1159.0" y="741.0" width="30.2" height="4.6" fill="#550000"/>
<rect x="1159.0" y="745.3" width="30.2" height="6.6" fill="#000000"/>
<rect x="1159.0" y="751.6" width="30.2" height="13.0" fill="#aa0000"/>
<rect x="1159.0" y="764.3" width="30.2" height="12.0" fill="#dd0000"/>
<rect x="1159.0" y="776.0" width="30.2" height="23.5" fill="#ff0000"/>
<rect x="1159.0" y="799.2" width="30.2" height="7.7" fill="#00aa00"/>
<rect x="1159.0" y="806.6" width="30.2" height="5.6" fill="#000000"/>
<rect x="1159.0" y="811.9" width="30.2" height="13.0" fill="#aa0000"/>
<rect x="1159.0" y="824.6" width="30.2" height="5.6" fill="#000000"/>
<rect x="1159.0" y="829.9" width="30.2" height="5.4" fill="#550000"/>
<rect x="1159.0" y="835.0" width="30.2" height="6.6" fill="#cc0000"/>
<rect x="1159.0" y="841.3" width="30.2" height="13.0" fill="#770000"/>
<rect x="1159.0" y="854.0" width="30.2" height="6.7" fill="#ff0000"/>
<rect x="1159.0" y="860.4" width="30.2" height="6.6" fill="#000000"/>
<rect x="1159.0" y="866.7" width="30.2" height="5.6" fill="#ff0000"/>
<rect x="1159.0" y="872.0" width="30.2" height="7.7" fill="#00ff00"/>
<rect x="1159.0" y="879.4" width="30.2" height="12.0" fill="#00aa00"/>
<rect x="1159.0" y="891.1" width="30.2" height="19.3" fill="#003300"/>
<rect x="1159.0" y="910.1" width="30.2" height="4.5" fill="#550000"/>
<rect x="1159.0" y="914.3" width="30.2" height="12.0" fill="#770000"/>
<rect x="1159.0" y="926.0" width="30.2" height="7.7" fill="#000000"/>
<rect x="1159.0" y="933.4" width="30.2" height="5.6" fill="#ff0000"/>
<rect x="1159.0" y="938.7" width="30.2" height="37.3" fill="#00ff00"/>
<rect x="1159.0" y="975.7" width="30.2" height="12.1" fill="#770000"/>
<rect x="1159.0" y="987.5" width="30.2" height="19.0" fill="#00cc00"/>
<rect x="1159.0" y="1006.2" width="30.2" height="4.5" fill="#000000"/>
<rect x="1159.0" y="1010.4" width="30.2" height="19.3" fill="#005500"/>
<rect x="1159.0" y="1029.4" width="30.2" height="7.7" fill="#00cc00"/>
<rect x="1159.0" y="1036.8" width="30.2" height="12.0" fill="#00aa00"/>
<rect x="1159.0" y="1048.5" width="30.2" height="4.5" fill="#550000"/>
<rect x="1159.0" y="1052.7" width="30.2" height="7.7" fill="#005500"/>
<rect x="1159.0" y="1060.1" width="30.2" height="5.6" fill="#000000"/>
<rect x="1159.0" y="1065.4" width="30.2" height="6.6" fill="#550000"/>
<rect x="1159.0" y="1071.7" width="30.2" height="7.7" fill="#ff0000"/>
<rect x="1159.0" y="1079.1" width="30.2" height="5.6" fill="#000000"/>
<rect x="1159.0" y="1084.4" width="30.2" height="6.7" fill="#007700"/>
<rect x="1159.0" y="1090.8" width="30.2" height="23.5" fill="#00aa00"/>
<rect x="1159.0" y="1114.0" width="30.2" height="12.0" fill="#00ff00"/>
<rect x="1159.0" y="1125.7" width="30.2" height="12.8" fill="#00aa00"/>
<rect x="1159.0" y="1138.2" width="30.2" height="11.9" fill="#00ff00"/>
<rect x="1159.0" y="1149.8" width="30.2" height="7.7" fill="#330000"/>
<rect x="1159.0" y="1157.2" width="30.2" height="6.7" fill="#000000"/>
<rect x="1159.0" y="1163.6" width="30.2" height="5.5" fill="#550000"/>
<rect x="1159.0" y="1168.8" width="30.2" height="6.7" fill="#330000"/>
<rect x="1159.0" y="1175.2" width="30.2" height="5.6" fill="#007700"/>
<rect x="1159.0" y="1180.5" width="30.2" height="97.6" fill="#00ff00"/>
<rect x="1159.0" y="1277.8" width="30.2" height="7.5" fill="#007700"/>
<rect x="1159.0" y="1285.0" width="30.2" height="5.6" fill="#005500"/>
<rect x="1159.0" y="1290.3" width="30.2" height="13.0" fill="#00cc00"/>
<rect x="1159.0" y="1303.0" width="30.2" height="11.9" fill="#00ff00"/>
<rect x="1159.0" y="1314.6" width="30.2" height="4.5" fill="#00aa00"/>
<rect x="1159.0" y="1318.8" width="30.2" height="8.8" fill="#00ff00"/>
<rect x="1159.0" y="1327.3" width="30.2" height="17.2" fill="#007700"/>
<rect x="1159.0" y="1344.2" width="30.2" height="4.6" fill="#000000"/>
<rect x="1159.0" y="1348.5" width="30.2" height="51.0" fill="#00ff00"/>
<rect x="1159.0" y="1399.2" width="30.2" height="5.6" fill="#ff0000"/>
<rect x="1159.0" y="1404.5" width="30.2" height="6.7" fill="#005500"/>
<rect x="1159.0" y="1410.9" width="30.2" height="6.6" fill="#550000"/>
<rect x="1159.0" y="1417.2" width="30.2" height="5.6" fill="#00ff00"/>
<rect x="1159.0" y="1422.5" width="30.2" height="6.7" fill="#003300"/>
<rect x="1159.0" y="1428.9" width="30.2" height="6.0" fill="#ff0000"/>
<rect x="1159.0" y="1434.6" width="30.2" height="25.0" fill="#00ff00"/>
<rect x="1188.2" y="389.5" width="29.3" height="48.7" fill="#000000"/>
<rect x="1188.2" y="437.9" width="29.3" height="7.7" fill="#550000"/>
<rect x="1188.2" y="445.3" width="29.3" height="11.9" fill="#000000"/>
<rect x="1188.2" y="456.9" width="29.3" height="12.0" fill="#550000"/>
<rect x="1188.2" y="468.6" width="29.3" height="163.0" fill="#000000"/>
<rect x="1188.2" y="631.3" width="29.3" height="11.9" fill="#550000"/>
<rect x="1188.2" y="642.9" width="29.3" height="29.9" fill="#000000"/>
<rect x="1188.2" y="672.5" width="29.3" height="7.7" fill="#550000"/>
<rect x="1188.2" y="679.9" width="29.3" height="42.4" fill="#000000"/>
<rect x="1188.2" y="722.0" width="29.3" height="12.0" fill="#550000"/>
<rect x="1188.2" y="733.7" width="29.3" height="176.7" fill="#000000"/>
<rect x="1188.2" y="910.1" width="29.3" height="4.5" fill="#550000"/>
<rect x="1188.2" y="914.3" width="29.3" height="24.7" fill="#000000"/>
<rect x="1188.2" y="938.7" width="29.3" height="6.6" fill="#550000"/>
<rect x="1188.2" y="945.0" width="29.3" height="66.7" fill="#000000"/>
<rect x="1188.2" y="1011.4" width="29.3" height="6.7" fill="#550000"/>
<rect x="1188.2" y="1017.8" width="29.3" height="42.6" fill="#000000"/>
<rect x="1188.2" y="1060.1" width="29.3" height="6.6" fill="#550000"/>
<rect x="1188.2" y="1066.4" width="29.3" height="133.4" fill="#000000"/>
<rect x="1188.2" y="1199.5" width="29.3" height="7.7" fill="#550000"/>
<rect x="1188.2" y="1206.9" width="29.3" height="23.6" fill="#000000"/>
<rect x="1188.2" y="1230.2" width="29.3" height="5.6" fill="#550000"/>
<rect x="1188.2" y="1235.5" width="29.3" height="224.1" fill="#000000"/>
<rect x="1216.5" y="389.5" width="25.3" height="1070.1" fill="#000000"/>
</g>
<g filter="url(#b2)">
<rect x="1259.6" y="390.5" width="30.2" height="22.4" fill="#f08a88"/>
<rect x="1259.6" y="412.6" width="30.2" height="8.5" fill="#8be0f0"/>
<rect x="1259.6" y="420.8" width="30.2" height="23.2" fill="#f08a88"/>
<rect x="1259.6" y="443.7" width="30.2" height="8.5" fill="#b4ea5a"/>
<rect x="1259.6" y="451.9" width="30.2" height="4.2" fill="#f08a88"/>
<rect x="1259.6" y="455.8" width="30.2" height="8.9" fill="#b4ea5a"/>
<rect x="1259.6" y="464.4" width="30.2" height="39.6" fill="#f08a88"/>
<rect x="1259.6" y="503.7" width="30.2" height="8.1" fill="#b4ea5a"/>
<rect x="1259.6" y="511.5" width="30.2" height="11.2" fill="#f08a88"/>
<rect x="1259.6" y="522.4" width="30.2" height="8.4" fill="#b4ea5a"/>
<rect x="1259.6" y="530.5" width="30.2" height="27.2" fill="#f08a88"/>
<rect x="1259.6" y="557.4" width="30.2" height="8.5" fill="#c0c0c0"/>
<rect x="1259.6" y="565.6" width="30.2" height="17.7" fill="#b4ea5a"/>
<rect x="1259.6" y="583.0" width="30.2" height="10.8" fill="#f08a88"/>
<rect x="1259.6" y="593.5" width="30.2" height="8.4" fill="#8be0f0"/>
<rect x="1259.6" y="601.6" width="30.2" height="7.2" fill="#f2c08e"/>
<rect x="1259.6" y="608.5" width="30.2" height="12.4" fill="#b4ea5a"/>
<rect x="1259.6" y="620.6" width="30.2" height="4.3" fill="#8be0f0"/>
<rect x="1259.6" y="624.6" width="30.2" height="8.8" fill="#b4ea5a"/>
<rect x="1259.6" y="633.1" width="30.2" height="22.9" fill="#c0c0c0"/>
<rect x="1259.6" y="655.7" width="30.2" height="12.1" fill="#b4ea5a"/>
<rect x="1259.6" y="667.5" width="30.2" height="23.9" fill="#c0c0c0"/>
<rect x="1259.6" y="691.1" width="30.2" height="4.2" fill="#b4ea5a"/>
<rect x="1259.6" y="695.0" width="30.2" height="11.1" fill="#c0c0c0"/>
<rect x="1259.6" y="705.8" width="30.2" height="5.2" fill="#b4ea5a"/>
<rect x="1259.6" y="710.7" width="30.2" height="3.6" fill="#8be0f0"/>
<rect x="1259.6" y="714.0" width="30.2" height="5.2" fill="#f2c08e"/>
<rect x="1259.6" y="718.9" width="30.2" height="31.4" fill="#c0c0c0"/>
<rect x="1261.5" y="750.0" width="26.5" height="6.9" fill="#f2c08e"/>
<rect x="1261.5" y="756.6" width="26.5" height="3.7" fill="#c0c0c0"/>
<rect x="1261.5" y="760.0" width="26.5" height="12.6" fill="#f2c08e"/>
<rect x="1261.5" y="772.3" width="26.5" height="10.8" fill="#c0c0c0"/>
<rect x="1261.5" y="782.8" width="26.5" height="4.5" fill="#f2c08e"/>
<rect x="1261.5" y="787.0" width="26.5" height="8.3" fill="#c0c0c0"/>
<rect x="1261.5" y="795.0" width="26.5" height="3.9" fill="#8be0f0"/>
<rect x="1261.5" y="798.6" width="26.5" height="19.0" fill="#c0c0c0"/>
<rect x="1261.5" y="817.3" width="26.5" height="16.6" fill="#f2c08e"/>
<rect x="1261.5" y="833.6" width="26.5" height="15.2" fill="#c0c0c0"/>
<rect x="1261.5" y="848.5" width="26.5" height="3.8" fill="#b4ea5a"/>
<rect x="1261.5" y="852.0" width="26.5" height="19.0" fill="#f2c08e"/>
<rect x="1261.5" y="870.7" width="26.5" height="12.3" fill="#f08a88"/>
<rect x="1261.5" y="882.7" width="26.5" height="18.6" fill="#c0c0c0"/>
<rect x="1261.5" y="901.0" width="26.5" height="4.1" fill="#8be0f0"/>
<rect x="1261.5" y="904.8" width="26.5" height="15.7" fill="#c0c0c0"/>
<rect x="1261.5" y="920.2" width="26.5" height="4.1" fill="#8be0f0"/>
<rect x="1261.5" y="924.0" width="26.5" height="15.7" fill="#b4ea5a"/>
<rect x="1261.5" y="939.4" width="26.5" height="7.6" fill="#c0c0c0"/>
<rect x="1261.5" y="946.7" width="26.5" height="4.5" fill="#f2c08e"/>
<rect x="1261.5" y="950.9" width="26.5" height="8.9" fill="#c0c0c0"/>
<rect x="1261.5" y="959.5" width="26.5" height="3.7" fill="#8be0f0"/>
<rect x="1261.5" y="962.9" width="26.5" height="7.5" fill="#f2c08e"/>
<rect x="1261.5" y="970.1" width="26.5" height="4.6" fill="#b4ea5a"/>
<rect x="1261.5" y="974.4" width="26.5" height="3.7" fill="#f08a88"/>
<rect x="1261.5" y="977.8" width="26.5" height="7.5" fill="#f2c08e"/>
<rect x="1261.5" y="985.0" width="26.5" height="31.1" fill="#f08a88"/>
<rect x="1261.5" y="1015.8" width="26.5" height="15.2" fill="#f2c08e"/>
<rect x="1261.5" y="1030.7" width="26.5" height="3.7" fill="#f08a88"/>
<rect x="1261.5" y="1034.1" width="26.5" height="9.7" fill="#b4ea5a"/>
<rect x="1261.5" y="1043.5" width="26.5" height="3.7" fill="#8be0f0"/>
<rect x="1261.5" y="1046.9" width="26.5" height="7.6" fill="#c0c0c0"/>
<rect x="1261.5" y="1054.2" width="26.5" height="7.9" fill="#b4ea5a"/>
<rect x="1261.5" y="1061.8" width="26.5" height="11.0" fill="#f08a88"/>
<rect x="1261.5" y="1072.5" width="26.5" height="4.6" fill="#f2c08e"/>
<rect x="1261.5" y="1076.8" width="26.5" height="7.5" fill="#8be0f0"/>
<rect x="1261.5" y="1084.0" width="26.5" height="4.6" fill="#f08a88"/>
<rect x="1261.5" y="1088.3" width="26.5" height="25.0" fill="#b4ea5a"/>
<rect x="1258.6" y="1113.0" width="29.6" height="3.8" fill="#b4ea5a"/>
<rect x="1258.6" y="1116.5" width="29.6" height="3.7" fill="#f08a88"/>
<rect x="1258.6" y="1119.9" width="29.6" height="7.1" fill="#b4ea5a"/>
<rect x="1258.6" y="1126.7" width="29.6" height="4.6" fill="#f08a88"/>
<rect x="1258.6" y="1131.0" width="29.6" height="6.7" fill="#f2c08e"/>
<rect x="1258.6" y="1137.4" width="29.6" height="16.5" fill="#b4ea5a"/>
<rect x="1258.6" y="1153.6" width="29.6" height="4.6" fill="#f08a88"/>
<rect x="1258.6" y="1157.9" width="29.6" height="6.7" fill="#b4ea5a"/>
<rect x="1258.6" y="1164.3" width="29.6" height="3.7" fill="#f08a88"/>
<rect x="1258.6" y="1167.7" width="29.6" height="7.5" fill="#b4ea5a"/>
<rect x="1258.6" y="1174.9" width="29.6" height="6.7" fill="#f2c08e"/>
<rect x="1258.6" y="1181.3" width="29.6" height="16.5" fill="#f08a88"/>
<rect x="1258.6" y="1197.5" width="29.6" height="11.8" fill="#c0c0c0"/>
<rect x="1258.6" y="1209.0" width="29.6" height="11.0" fill="#f2c08e"/>
<rect x="1258.6" y="1219.7" width="29.6" height="4.6" fill="#b4ea5a"/>
<rect x="1258.6" y="1224.0" width="29.6" height="6.7" fill="#f2c08e"/>
<rect x="1258.6" y="1230.4" width="29.6" height="13.1" fill="#f08a88"/>
<rect x="1258.6" y="1243.2" width="29.6" height="7.5" fill="#b4ea5a"/>
<rect x="1258.6" y="1250.4" width="29.6" height="10.1" fill="#c0c0c0"/>
<rect x="1258.6" y="1260.2" width="29.6" height="8.9" fill="#8be0f0"/>
<rect x="1258.6" y="1268.8" width="29.6" height="3.7" fill="#f08a88"/>
<rect x="1258.6" y="1272.2" width="29.6" height="7.5" fill="#b4ea5a"/>
<rect x="1258.6" y="1279.4" width="29.6" height="8.0" fill="#c0c0c0"/>
<rect x="1258.6" y="1287.1" width="29.6" height="19.1" fill="#b4ea5a"/>
<rect x="1258.6" y="1305.9" width="29.6" height="18.6" fill="#c0c0c0"/>
<rect x="1258.6" y="1324.2" width="29.6" height="4.6" fill="#f2c08e"/>
<rect x="1258.6" y="1328.5" width="29.6" height="10.9" fill="#8be0f0"/>
<rect x="1258.6" y="1339.1" width="29.6" height="4.6" fill="#b4ea5a"/>
<rect x="1258.6" y="1343.4" width="29.6" height="4.6" fill="#f2c08e"/>
<rect x="1258.6" y="1347.7" width="29.6" height="62.1" fill="#8be0f0"/>
<rect x="1258.6" y="1409.5" width="29.6" height="24.2" fill="#b4ea5a"/>
<rect x="1258.6" y="1433.4" width="29.6" height="8.4" fill="#8be0f0"/>
<rect x="1258.6" y="1441.5" width="29.6" height="3.3" fill="#f08a88"/>
<rect x="1258.6" y="1444.5" width="29.6" height="7.7" fill="#8be0f0"/>
<rect x="1258.6" y="1451.9" width="29.6" height="7.7" fill="#b4ea5a"/>
</g>
<g fill="none" stroke="#111" stroke-width="2.1" filter="url(#b2)">
<path d="M1324.2,388.3 H1349 V595.4 H1324.2"/>
<line x1="1349" y1="486.5" x2="1374" y2="486.5" stroke="#222" stroke-width="2.4"/>
<path d="M1324.2,643.7 H1349 V823.7 H1324.2"/>
<line x1="1349" y1="728.6" x2="1374" y2="728.6" stroke="#505050" stroke-width="3.4"/>
<path d="M1324.2,1261.7 H1349 V1425.7 H1324.2"/>
<line x1="1349" y1="1339.2" x2="1374" y2="1339.2" stroke="#222" stroke-width="2.4"/>
</g>
<g filter="url(#b2)">
<text transform="translate(1415,504) rotate(-90)" font-size="28" font-weight="bold" fill="#111" textLength="41.2" lengthAdjust="spacingAndGlyphs">RA</text>
<text transform="translate(1411.6,800) rotate(-90)" font-size="27.6" font-weight="bold" fill="#111" textLength="143" lengthAdjust="spacingAndGlyphs">CONTROL</text>
<text transform="translate(1413.3,1368.6) rotate(-90)" font-size="28" font-weight="bold" fill="#111" textLength="55.4" lengthAdjust="spacingAndGlyphs">SLE</text>
</g>
</svg></body></html>
